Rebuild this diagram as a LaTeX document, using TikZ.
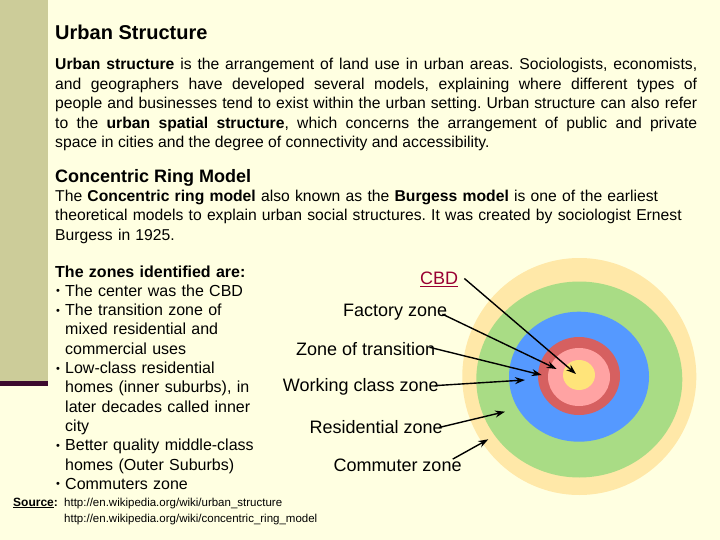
\documentclass[tikz,border=0pt]{standalone}
\usepackage{fontspec}
\setmainfont{Liberation Sans}
\usetikzlibrary{arrows.meta}
\definecolor{bgc}{HTML}{FFFFE1}
\definecolor{barc}{HTML}{CCCC99}
\definecolor{plum}{HTML}{3C0A2D}
\definecolor{ringout}{HTML}{FFE8A8}
\definecolor{ringgreen}{HTML}{A9DC85}
\definecolor{ringblue}{HTML}{5599FF}
\definecolor{ringred}{HTML}{D66060}
\definecolor{ringpink}{HTML}{FFA3A3}
\definecolor{ringyellow}{HTML}{FFE47A}
\definecolor{cbdc}{HTML}{990033}
\newcommand\zbul{\makebox[10pt][l]{\hspace{1pt}\raisebox{1.5pt}{\fontsize{11}{11}\selectfont•}}}
\newcommand\zind{\hspace*{10pt}}
\frenchspacing
\begin{document}
\begin{tikzpicture}[x=1pt,y=-1pt,
  txt/.style={anchor=base west,inner sep=0pt},
  lab/.style={anchor=base west,inner sep=0pt,font=\fontsize{18}{22}\selectfont},
  arr/.style={line width=1.4pt,-{Stealth[length=10pt,width=7pt]}}]
\fill[bgc] (0,0) rectangle (720,540);
\useasboundingbox (0,0) rectangle (720,540);
\fill[barc] (0,0) rectangle (48,381);
\fill[plum] (0,381) rectangle (48,386);
% text
\node[txt,font=\fontsize{20}{24}\selectfont\bfseries] (title) at (55,40) {Urban Structure};
\node[txt,text width=642pt,align=justify,font=\fontsize{15.7}{19.5}\selectfont] (p1) at (55,70)
 {\textbf{Urban structure} is the arrangement of land use in urban areas. Sociologists, economists,\linebreak
 and geographers have developed several models, explaining where different types of\linebreak
 people and businesses tend to exist within the urban setting. Urban structure can also refer\linebreak
 to the \textbf{urban spatial structure}, which concerns the arrangement of public and private\linebreak
 space in cities and the degree of connectivity and accessibility.};
\node[txt,font=\fontsize{18}{22}\selectfont\bfseries] (h2) at (55,182.5) {Concentric Ring Model};
\node[txt,text width=660pt,align=left,font=\fontsize{15.7}{19.5}\selectfont] (p2) at (55,201.5)
 {The \textbf{Concentric ring model} also known as the \textbf{Burgess model} is one of the earliest\\
 theoretical models to explain urban social structures. It was created by sociologist Ernest\\
 Burgess in 1925.};
\node[txt,text width=240pt,align=left,font=\fontsize{16}{19.3}\selectfont] (list) at (55,277)
 {\textbf{The zones identified are:}\\
 \zbul The center was the CBD\\
 \zbul The transition zone of\\
 \zind mixed residential and\\
 \zind commercial uses\\
 \zbul Low-class residential\\
 \zind homes (inner suburbs), in\\
 \zind later decades called inner\\
 \zind city\\
 \zbul Better quality middle-class\\
 \zind homes (Outer Suburbs)\\
 \zbul Commuters zone};
\node[txt,font=\fontsize{12}{16}\selectfont\bfseries] (src) at (13,506) {\underline{Source}:};
\node[txt,text width=320pt,align=left,font=\fontsize{11.5}{16}\selectfont] (urls) at (64,506)
 {http://en.wikipedia.org/wiki/urban\_structure\\
 http://en.wikipedia.org/wiki/concentric\_ring\_model};
% rings
\fill[ringout] (579.3,376.5) ellipse [x radius=117, y radius=118.5];
\fill[ringgreen] (579.3,379.5) ellipse [x radius=103, y radius=98];
\fill[ringblue] (579,376.7) ellipse [x radius=70, y radius=65];
\fill[ringred] (579,376) ellipse [x radius=41, y radius=39];
\fill[ringpink] (579,377) ellipse [x radius=31, y radius=29];
\fill[ringyellow] (579,375) ellipse [x radius=16, y radius=15];
\coordinate (eCBD) at (576,374);
\coordinate (eFac) at (556.7,369);
\coordinate (eTra) at (541.7,375);
\coordinate (eWor) at (525,380);
\coordinate (eRes) at (505,411.7);
\coordinate (eCom) at (488.3,439.3);
% labels
\node[lab,text=cbdc] (cbd) at (420,284.7) {\underline{CBD}};
\node[lab] (fac) at (343,316.5) {Factory zone};
\node[lab] (tra) at (296,355.7) {Zone of transition};
\node[lab] (wor) at (282.7,391.3) {Working class zone};
\node[lab] (res) at (309.3,433) {Residential zone};
\node[lab] (com) at (333.3,471.3) {Commuter zone};
% arrows
\draw[arr] ([shift={(6pt,1pt)}]cbd.east) -- (eCBD);
\draw[arr] ([shift={(-5pt,-2pt)}]fac.east) -- (eFac);
\draw[arr] ([shift={(-6pt,2pt)}]tra.east) -- (eTra);
\draw[arr] ([shift={(-4pt,1pt)}]wor.east) -- (eWor);
\draw[arr] ([shift={(-4pt,-1pt)}]res.east) -- (eRes);
\draw[arr] ([shift={(-9pt,6pt)}]com.east) -- (eCom);
\end{tikzpicture}
\end{document}
